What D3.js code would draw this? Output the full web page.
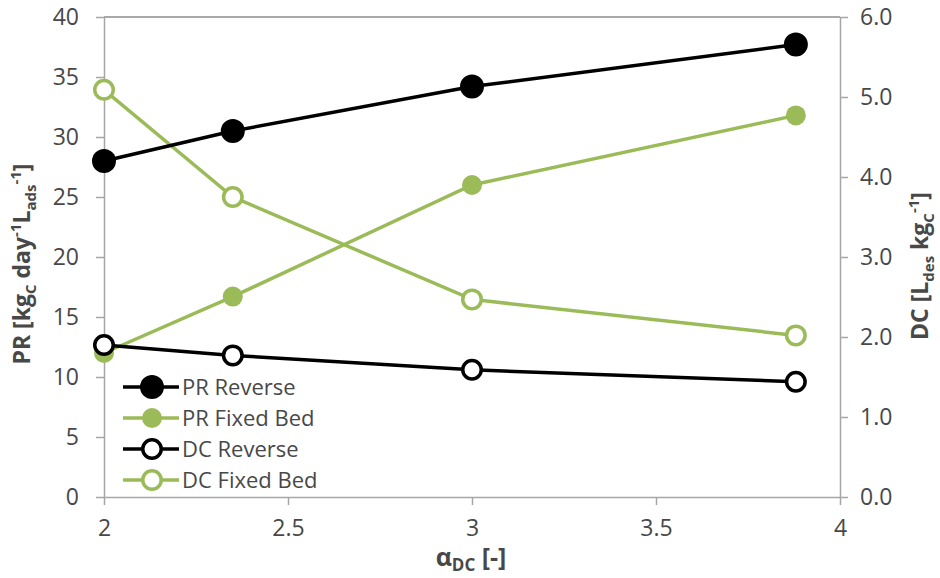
<html lang="en">
<head>
    <meta charset="UTF-8">
    <script src="https://d3js.org/d3.v7.min.js"></script>
    <style>
        body { margin: 0; background: #fff; }
        text { font-family: "Open Sans", "Liberation Sans", sans-serif; }
    </style>
</head>
<body>
    <script type="text/javascript">

        // alpha_DC values
        let alphaDC = [2, 2.35, 3, 3.88];
        // productivity, left axis
        let prReverse = [28.0, 30.5, 34.2, 37.7];
        let prFixedBed = [12.0, 16.7, 26.0, 31.8];
        // desorbent consumption, right axis
        let dcReverse = [1.90, 1.77, 1.59, 1.44];
        let dcFixedBed = [5.09, 3.75, 2.47, 2.02];

        let xTicks = [2, 2.5, 3, 3.5, 4];
        let leftTicks = [0, 5, 10, 15, 20, 25, 30, 35, 40];
        let rightTicks = [0, 1, 2, 3, 4, 5, 6];

        let width = 940;
        let height = 578;
        let margin = {top: 17, right: 100, bottom: 81, left: 104};
        let green = "#9bbb59";
        let axisColor = "#a6a6a6";
        let labelColor = "#484848";

        let svg = d3.select('body')
            .append('svg')
            .attr('width', width)
            .attr('height', height);

        let x = d3.scaleLinear().domain([2, 4]).range([margin.left, width - margin.right]);
        let yL = d3.scaleLinear().domain([0, 40]).range([height - margin.bottom, margin.top]);
        let yR = d3.scaleLinear().domain([0, 6]).range([height - margin.bottom, margin.top]);

        // top border
        svg.append("line")
            .attr("x1", x(2)).attr("x2", x(4))
            .attr("y1", yL(40)).attr("y2", yL(40))
            .attr("stroke", "#8c8c8c").attr("stroke-width", 1.5);

        let styleAxis = function (g) {
            g.attr("font-size", 23).attr("font-family", null);
            g.select(".domain").attr("stroke", axisColor).attr("stroke-width", 1.5);
            g.selectAll(".tick line").attr("stroke", axisColor).attr("stroke-width", 1.5);
            g.selectAll(".tick text").attr("fill", labelColor);
        };

        svg.append("g")
            .attr("transform", `translate(0,${yL(0)})`)
            .call(d3.axisBottom(x).tickValues(xTicks).tickSize(8).tickSizeOuter(0).tickPadding(15)
                .tickFormat(d3.format("")))
            .call(styleAxis);

        svg.append("g")
            .attr("transform", `translate(${x(2)},0)`)
            .call(d3.axisLeft(yL).tickValues(leftTicks).tickSize(8).tickSizeOuter(0).tickPadding(17))
            .call(styleAxis);

        svg.append("g")
            .attr("transform", `translate(${x(4)},0)`)
            .call(d3.axisRight(yR).tickValues(rightTicks).tickSize(8).tickSizeOuter(0).tickPadding(12)
                .tickFormat(d3.format(".1f")))
            .call(styleAxis);

        // axis titles
        let leftTitle = svg.append("text")
            .attr("transform", `translate(30,${264}) rotate(-90)`)
            .attr("text-anchor", "middle")
            .attr("font-size", 23)
            .attr("font-weight", "bold")
            .attr("fill", labelColor);
        leftTitle.append("tspan").text("PR [kg");
        leftTitle.append("tspan").attr("font-size", 15).attr("dy", 6).text("C");
        leftTitle.append("tspan").attr("dy", -6).text(" day");
        leftTitle.append("tspan").attr("font-size", 15).attr("dy", -9).text("-1");
        leftTitle.append("tspan").attr("dy", 9).text("L");
        leftTitle.append("tspan").attr("font-size", 15).attr("dy", 6).text("ads");
        leftTitle.append("tspan").attr("font-size", 15).attr("dy", -15).text("-1");
        leftTitle.append("tspan").attr("dy", 9).text("]");

        let rightTitle = svg.append("text")
            .attr("transform", `translate(928,${266}) rotate(-90)`)
            .attr("text-anchor", "middle")
            .attr("font-size", 23)
            .attr("font-weight", "bold")
            .attr("fill", labelColor);
        rightTitle.append("tspan").text("DC [L");
        rightTitle.append("tspan").attr("font-size", 15).attr("dy", 6).text("des");
        rightTitle.append("tspan").attr("dy", -6).text(" kg");
        rightTitle.append("tspan").attr("font-size", 15).attr("dy", 6).text("C");
        rightTitle.append("tspan").attr("font-size", 15).attr("dy", -15).text("-1");
        rightTitle.append("tspan").attr("dy", 9).text("]");

        let xTitle = svg.append("text")
            .attr("x", 471)
            .attr("y", 566)
            .attr("text-anchor", "middle")
            .attr("font-size", 25)
            .attr("font-weight", "bold")
            .attr("fill", labelColor);
        xTitle.append("tspan").text("α");
        xTitle.append("tspan").attr("font-size", 17).attr("dy", 5).text("DC");
        xTitle.append("tspan").attr("dy", -5).text(" [-]");

        let series = [
            {name: "PR Reverse", values: prReverse, y: yL, color: "#000", filled: true, r: 12},
            {name: "PR Fixed Bed", values: prFixedBed, y: yL, color: green, filled: true, r: 10},
            {name: "DC Reverse", values: dcReverse, y: yR, color: "#000", filled: false, r: 11},
            {name: "DC Fixed Bed", values: dcFixedBed, y: yR, color: green, filled: false, r: 11}
        ];

        let drawOrder = [series[1], series[3], series[2], series[0]];

        drawOrder.forEach(function (s) {
            let pts = alphaDC.map((a, i) => [a, s.values[i]]);
            let line = d3.line().x(d => x(d[0])).y(d => s.y(d[1]));
            svg.append("path")
                .datum(pts)
                .attr("d", line)
                .attr("fill", "none")
                .attr("stroke", s.color)
                .attr("stroke-width", 3.5);
            svg.selectAll(null)
                .data(pts)
                .join("circle")
                .attr("cx", d => x(d[0]))
                .attr("cy", d => s.y(d[1]))
                .attr("r", s.filled ? s.r : s.r - 1.75)
                .attr("fill", s.filled ? s.color : "#fff")
                .attr("stroke", s.color)
                .attr("stroke-width", s.filled ? 0 : 3.5);
        });

        // legend
        let legend = svg.append("g").attr("transform", "translate(123,387)");
        series.forEach(function (s, i) {
            let g = legend.append("g").attr("transform", `translate(0,${i * 31})`);
            g.append("line")
                .attr("x1", 0).attr("x2", 56)
                .attr("stroke", s.color).attr("stroke-width", 3.5);
            g.append("circle")
                .attr("cx", 29).attr("cy", 0)
                .attr("r", s.filled ? s.r : s.r - 1.75)
                .attr("fill", s.filled ? s.color : "#fff")
                .attr("stroke", s.color)
                .attr("stroke-width", s.filled ? 0 : 3.5);
            g.append("text")
                .attr("x", 59).attr("y", 8)
                .attr("font-size", 22)
                .attr("fill", labelColor)
                .text(s.name);
        });
    </script>
</body>
</html>
